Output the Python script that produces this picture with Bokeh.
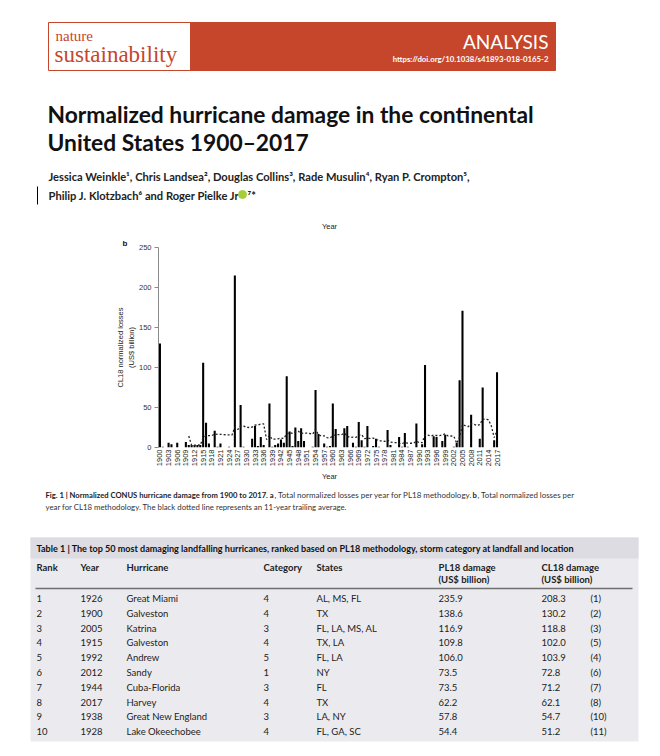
import numpy as np
from bokeh.plotting import figure
from bokeh.layouts import column, row
from bokeh.models import Range1d, FixedTicker, Title
from bokeh.core.properties import value
from bokeh.embed import file_html
from bokeh.resources import INLINE

# ---------------- data ----------------
years = list(range(1900, 2018))
cl18_losses = [
    130, 1, 0, 6, 4, 0, 6, 0, 0, 7,
    3, 3, 3, 3, 3, 106, 31, 5, 0, 21,
    1, 5, 0, 0, 1, 0, 215, 0, 53, 1,
    0, 0, 11, 27, 2, 13, 3, 0, 55, 1,
    3, 5, 10, 6, 89, 20, 2, 25, 8, 24,
    8, 0, 0, 1, 72, 17, 0, 5, 1, 2,
    55, 23, 0, 0, 24, 27, 0, 6, 1, 32,
    9, 1, 27, 0, 2, 11, 1, 0, 0, 22,
    3, 0, 0, 13, 1, 18, 1, 0, 0, 30,
    0, 4, 103, 0, 0, 14, 13, 0, 8, 16,
    0, 0, 1, 6, 84, 171, 0, 0, 41, 0,
    0, 11, 75, 0, 0, 0, 9, 94,
]
avg_years = list(range(1910, 2018))
avg11 = [
    14.3, 2.7, 2.9, 3.2, 2.9, 12.2, 15.0, 14.9, 14.9, 16.8,
    16.3, 16.5, 16.2, 15.9, 15.7, 15.5, 25.4, 22.5, 26.9, 27.0,
    25.1, 25.0, 25.5, 28.0, 28.2, 29.3, 29.5, 10.0, 15.0, 10.3,
    10.5, 10.9, 11.8, 11.4, 17.0, 18.6, 17.6, 19.6, 20.4, 17.5,
    18.2, 17.9, 17.5, 16.6, 22.6, 16.1, 14.3, 14.5, 12.4, 11.8,
    14.6, 16.0, 16.0, 16.0, 18.1, 14.0, 12.5, 13.0, 12.6, 15.5,
    16.1, 11.2, 11.5, 11.5, 11.7, 10.5, 8.2, 8.2, 7.6, 9.5,
    6.9, 6.1, 6.0, 4.7, 4.8, 6.3, 5.4, 5.3, 5.3, 8.0,
    6.0, 6.1, 15.5, 15.5, 14.3, 15.5, 15.0, 14.9, 15.6, 17.1,
    14.4, 14.4, 14.1, 5.3, 12.9, 28.5, 27.2, 26.0, 29.7, 29.0,
    27.5, 28.5, 35.4, 35.3, 34.7, 27.1, 12.4, 20.9,
]
x_tick_years = list(range(1900, 2018, 3))
y_ticks = [0, 50, 100, 150, 200, 250]

t_rank = ["1", "2", "3", "4", "5", "6", "7", "8", "9", "10"]
t_year = ["1926", "1900", "2005", "1915", "1992", "2012", "1944", "2017", "1938", "1928"]
t_name = ["Great Miami", "Galveston", "Katrina", "Galveston", "Andrew", "Sandy",
          "Cuba-Florida", "Harvey", "Great New England", "Lake Okeechobee"]
t_cat = ["4", "4", "3", "4", "5", "1", "3", "4", "3", "4"]
t_states = ["AL, MS, FL", "TX", "FL, LA, MS, AL", "TX, LA", "FL, LA", "NY", "FL", "TX",
            "LA, NY", "FL, GA, SC"]
t_pl18 = ["235.9", "138.6", "116.9", "109.8", "106.0", "73.5", "73.5", "62.2", "57.8", "54.4"]
t_cl18 = ["208.3", "130.2", "118.8", "102.0", "103.9", "72.8", "71.2", "62.1", "54.7", "51.2"]
t_cl18_rank = ["(1)", "(2)", "(3)", "(5)", "(4)", "(6)", "(7)", "(8)", "(10)", "(11)"]

# ---------------- helpers ----------------
RED = "#c6462b"
SANS = "Liberation Sans"
HEAD = "Lato"
BODY = "Lato"


def page_fig(y0, y1, x0=0, x1=652):
    p = figure(width=int(x1 - x0), height=int(y1 - y0),
               x_range=Range1d(x0, x1), y_range=Range1d(y1, y0),
               x_axis_location=None, y_axis_location=None,
               output_backend="svg", toolbar_location=None, min_border=0)
    p.grid.visible = False
    p.outline_line_color = None
    p.background_fill_color = "white"
    p.border_fill_color = "white"
    return p


def add_text(p, x, y, s, size, font, style="normal", color="#111111",
             align="left", baseline="middle", angle=0.0):
    p.text(x=[x], y=[y], text=[s], text_font=value(font),
           text_font_size=f"{size}px", text_font_style=style,
           text_color=color, text_align=align, text_baseline=baseline,
           angle=angle)


# ---------------- top of page ----------------
top = page_fig(0, 232)
top.quad(left=[48], right=[190], top=[22], bottom=[70], fill_color="white",
         line_color=RED, line_width=1)
top.quad(left=[190], right=[555], top=[22], bottom=[70], fill_color=RED,
         line_color=RED, line_width=1)
add_text(top, 55, 35, "nature", 15, "Liberation Serif", color=RED)
add_text(top, 54, 54, "sustainability", 23, "Liberation Serif", color=RED)
add_text(top, 548, 41, "ANALYSIS", 19, HEAD, color="white", align="right")
add_text(top, 548, 58, "https://doi.org/10.1038/s41893-018-0165-2", 7.8, BODY,
         style="bold", color="white", align="right")

add_text(top, 47, 113, "Normalized hurricane damage in the continental", 22.8, HEAD,
         style="bold", color="#111111")
add_text(top, 47, 141, "United States 1900\u20132017", 22.8, HEAD, style="bold",
         color="#111111")

add_text(top, 48, 176,
         "Jessica Weinkle\u00b9, Chris Landsea\u00b2, Douglas Collins\u00b3, "
         "Rade Musulin\u2074, Ryan P. Crompton\u2075,", 11.15, HEAD, style="bold",
         color="#222222")
add_text(top, 48, 195, "Philip J. Klotzbach\u2076 and Roger Pielke Jr", 11.15, HEAD,
         style="bold", color="#222222")
top.scatter(x=[242], y=[194], size=8, marker="circle", fill_color="#a6ce39",
            line_color="#a6ce39")
add_text(top, 247, 195, "\u2077*", 11.15, HEAD, style="bold", color="#222222")
top.segment(x0=[37], y0=[186], x1=[37], y1=[204], line_color="black", line_width=1)

add_text(top, 329, 226, "Year", 7.5, SANS, color="#222222", align="center")

# ---------------- chart (page rows 232..472) ----------------
FR_L, FR_T, FR_W, FR_H = 158, 247, 340, 200

chart = figure(frame_width=FR_W, frame_height=FR_H, x_range=Range1d(1899.5, 2017.5),
               y_range=Range1d(0, 250), output_backend="svg",
               toolbar_location=None, min_border_left=FR_L,
               min_border_right=652 - FR_L - FR_W, min_border_top=FR_T - 232,
               min_border_bottom=472 - FR_T - FR_H)
chart.grid.visible = False
chart.outline_line_color = None
chart.background_fill_color = "white"
chart.border_fill_color = "white"
chart.title = Title(text="b", align="left", offset=-36, standoff=0,
                    text_font=SANS, text_font_size="8px", text_font_style="bold",
                    text_color="#111111")

chart.vbar(x=years, top=cl18_losses, width=0.72, bottom=0, fill_color="black",
           line_color=None)
chart.line(x=avg_years, y=avg11, line_dash="2 2", line_width=1.3, line_color="#222222")

xa = chart.xaxis[0]
xa.ticker = FixedTicker(ticks=x_tick_years)
xa.major_label_orientation = np.pi / 2
xa.axis_line_color = None
xa.major_tick_line_color = None
xa.major_tick_out = 0
xa.major_tick_in = 0
xa.minor_tick_line_color = None
xa.minor_tick_out = 0
xa.major_label_standoff = 2
xa.major_label_text_font = SANS
xa.major_label_text_font_size = "7.5px"
xa.major_label_text_color = "#222222"

ya = chart.yaxis[0]
ya.ticker = FixedTicker(ticks=y_ticks)
ya.axis_line_color = "#8a8a8a"
ya.major_tick_line_color = "#8a8a8a"
ya.major_tick_out = 4
ya.major_tick_in = 0
ya.minor_tick_line_color = None
ya.minor_tick_out = 0
ya.major_label_standoff = 3
ya.major_label_text_font = SANS
ya.major_label_text_font_size = "7.5px"
ya.major_label_text_color = "#333333"
ya.axis_label = "CL18 normalized losses\n(US$ billion)"
ya.axis_label_standoff = 0
ya.axis_label_text_font = SANS
ya.axis_label_text_font_size = "7.5px"
ya.axis_label_text_font_style = "normal"
ya.axis_label_text_color = "#222222"

# ---------------- caption and table ----------------
bot = page_fig(472, 748)
add_text(bot, 329, 476, "Year", 7.5, SANS, color="#222222", align="center")

add_text(bot, 45, 494, "Fig. 1 | Normalized CONUS hurricane damage from 1900 to 2017. a",
         7.65, BODY, style="bold", color="#222222")
add_text(bot, 274, 494, ", Total normalized losses per year for PL18 methodology.",
         8.0, BODY, color="#333333")
add_text(bot, 472, 494, "b", 7.65, BODY, style="bold", color="#222222")
add_text(bot, 477, 494, ", Total normalized losses per", 7.9, BODY, color="#333333")
add_text(bot, 45, 506,
         "year for CL18 methodology. The black dotted line represents an 11-year trailing average.",
         7.8, BODY, color="#333333")

bot.quad(left=[30], right=[638], top=[537], bottom=[741], fill_color="#ebebef",
         line_color=None)
bot.quad(left=[30], right=[638], top=[537], bottom=[558], fill_color="#dcdce2",
         line_color=None)
add_text(bot, 36, 548,
         "Table 1 | The top 50 most damaging landfalling hurricanes, ranked based on "
         "PL18 methodology, storm category at landfall and location",
         9.05, BODY, style="bold", color="#111111")

col_x = [36, 80, 126, 263, 316, 438, 541, 590]
for x, h in zip(col_x[:5], ["Rank", "Year", "Hurricane", "Category", "States"]):
    add_text(bot, x, 567, h, 9.5, BODY, style="bold", color="#222222")
for x, h in zip(col_x[5:7], ["PL18 damage", "CL18 damage"]):
    add_text(bot, x, 567, h, 9.5, BODY, style="bold", color="#222222")
    add_text(bot, x, 579, "(US$ billion)", 9.5, BODY, style="bold", color="#222222")
bot.segment(x0=[35], y0=[588], x1=[632], y1=[588], line_color="#6f6f6f", line_width=1.5)

row_y = [598 + i * 14.8 for i in range(len(t_rank))]
for x, vals in zip(col_x, [t_rank, t_year, t_name, t_cat, t_states, t_pl18, t_cl18,
                           t_cl18_rank]):
    bot.text(x=x, y=row_y, text=vals, text_font=value(BODY), text_font_size="9.5px",
             text_color="#222222", text_align="left", text_baseline="middle")

layout = column(top, row(chart), bot)
open("out.html", "w").write(file_html(layout, INLINE))
